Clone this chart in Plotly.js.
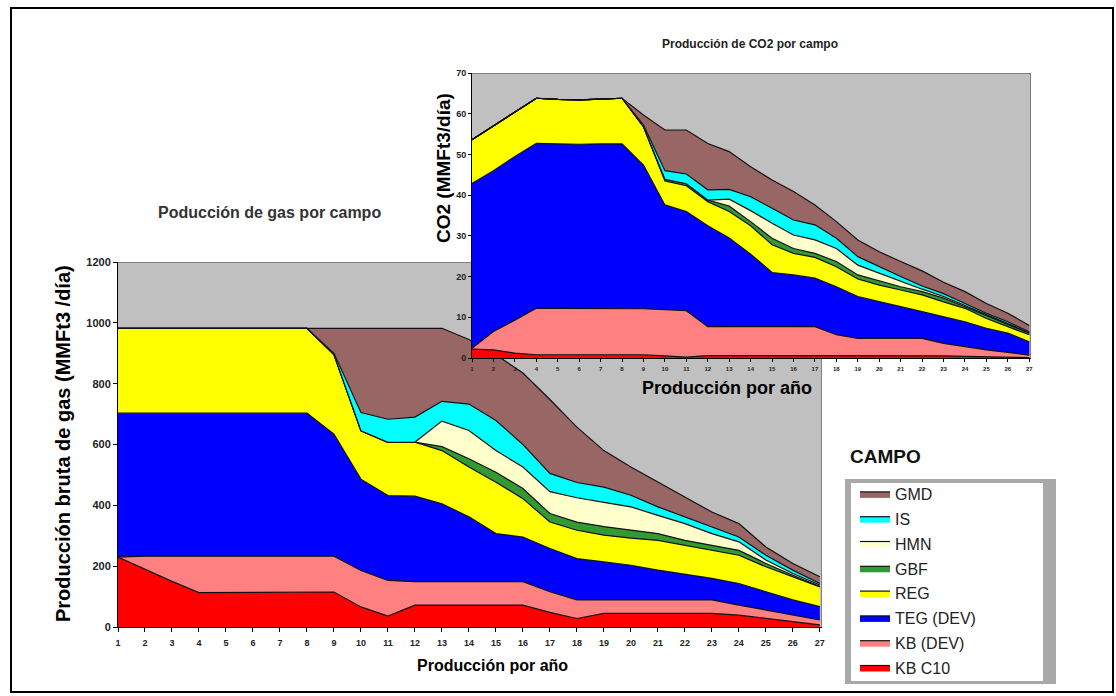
<!DOCTYPE html>
<html>
<head>
<meta charset="utf-8">
<script src="https://cdn.plot.ly/plotly-3.0.1.min.js"></script>
<style>
html,body{margin:0;padding:0;background:#fff;}
#chart{width:1116px;height:696px;}
</style>
</head>
<body>
<div id="chart"></div>
<script>
// ---- categories ----
const years = [1,2,3,4,5,6,7,8,9,10,11,12,13,14,15,16,17,18,19,20,21,22,23,24,25,26,27];
const yearLabels = years.map(String);

// ---- series (stack order bottom -> top) ----
const seriesNames = ['KB C10','KB (DEV)','TEG (DEV)','REG','GBF','HMN','IS','GMD'];
const seriesColors = ['#ff0000','#ff8080','#0000ff','#ffff00','#339933','#ffffcc','#00ffff','#996666'];

// ---- gas production (MMFt3/día) ----
const gasKBC10 = [230,190,150,113,113,113,113,113,115,66,36,72,72,72,72,72,48,28,45,45,45,45,45,39,28,17,7];
const gasKBDEV = [0,43,83,120,120,120,120,120,118,120,117,77,77,77,77,77,68,61,44,44,44,44,44,33,28,22,16];
const gasTEG   = [473,470,470,470,470,470,470,470,401,300,279,281,256,213,158,147,142,136,125,114,98,85,71,71,60,50,44];
const gasREG   = [279,279,279,279,279,279,279,279,262,159,175,178,175,164,169,126,87,93,88,89,98,95,92,93,82,76,65];
const gasGBF   = [0,0,0,0,0,0,0,0,0,0,0,0,13,27,33,33,28,27,28,26,22,16,17,16,11,5,2];
const gasHMN   = [0,0,0,0,0,0,0,0,0,0,0,0,84,93,71,71,72,80,80,77,60,55,38,28,11,6,4];
const gasIS    = [0,0,0,0,0,0,0,0,4,60,76,82,65,87,99,74,60,50,50,38,28,22,22,16,16,11,5];
const gasGMD   = [0,0,0,0,0,0,0,0,82,277,299,292,240,212,216,235,243,182,120,93,81,65,49,44,27,22,22];

// ---- CO2 production (MMFt3/día) ----
const co2KBC10 = [2.2,2.0,1.2,0.8,0.8,0.8,0.8,0.8,0.8,0.5,0.2,0.6,0.6,0.6,0.6,0.6,0.6,0.5,0.5,0.5,0.5,0.5,0.5,0.4,0.3,0.2,0.1];
const co2KBDEV = [0.2,4.5,8.1,11.4,11.4,11.4,11.4,11.4,11.3,11.4,11.4,7.1,7.1,7.1,7.1,7.1,7.1,5.2,4.3,4.3,4.3,4.3,3.1,2.4,1.7,1.2,0.6];
const co2TEG   = [40.5,39.5,40.2,40.5,40.4,40.3,40.4,40.4,35.3,25.7,24.4,24.8,21.8,17.8,13.3,12.7,11.9,11.8,10.3,9.0,7.8,6.6,6.6,6.1,5.3,4.7,3.3];
const co2REG   = [10.7,11.0,11.0,11.1,10.9,10.9,11.0,11.2,9.4,5.9,6.3,5.9,6.5,7.0,6.8,5.3,5.1,4.9,4.3,4.1,4.1,4.1,3.6,3.3,2.4,1.6,1.7];
const co2GBF   = [0,0,0,0,0,0,0,0,0,0.4,0.5,0.4,1.3,1.0,1.6,1.2,1.0,1.3,1.0,1.0,0.8,0.8,0.9,0.4,0.7,0.6,0.4];
const co2HMN   = [0,0,0,0,0,0,0,0,0,0,0,0,1.7,2.7,3.7,3.3,3.3,3.2,2.4,1.9,1.3,0.6,0.4,0.3,0.2,0.2,0.1];
const co2IS    = [0,0,0,0,0,0,0,0,0.4,2.1,2.4,2.5,2.4,3.4,3.7,3.7,3.7,2.5,2.1,1.6,1.2,0.8,0.7,0.5,0.4,0.4,0.2];
const co2GMD   = [0,0,0,0,0,0,0,0,2.5,10.0,10.8,11.4,9.3,7.4,6.9,7.0,4.9,4.1,4.1,3.7,3.7,3.7,2.8,2.9,2.4,2.1,1.6];

const gasSeries = [gasKBC10,gasKBDEV,gasTEG,gasREG,gasGBF,gasHMN,gasIS,gasGMD];
const co2Series = [co2KBC10,co2KBDEV,co2TEG,co2REG,co2GBF,co2HMN,co2IS,co2GMD];

// ---- texts ----
const mainTitle = 'Poducción de gas por campo';
const insetTitle = 'Producción de CO2 por campo';
const mainYTitle = 'Producción bruta de gas (MMFt3 /día)';
const insetYTitle = 'CO2 (MMFt3/día)';
const xTitle = 'Producción por año';
const legendTitle = 'CAMPO';

// ---- layout helpers (pixel -> paper) ----
const W = 1116, H = 696;
const px = v => v / W;
const py = v => 1 - v / H;
const FONT = 'Liberation Sans, Arial, sans-serif';

const traces = [];
seriesNames.forEach((name, i) => {
  traces.push({
    type: 'scatter', mode: 'lines', name: name,
    x: years, y: gasSeries[i],
    stackgroup: 'gas', xaxis: 'x', yaxis: 'y',
    fillcolor: seriesColors[i],
    line: {color: '#111111', width: 1.2},
    legendgroup: name, legendrank: 100 - i, showlegend: true,
    hoverinfo: 'x+y+name'
  });
});
seriesNames.forEach((name, i) => {
  traces.push({
    type: 'scatter', mode: 'lines', name: name,
    x: years, y: co2Series[i],
    stackgroup: 'co2', xaxis: 'x2', yaxis: 'y2',
    fillcolor: seriesColors[i],
    line: {color: '#111111', width: 1.2},
    legendgroup: name, legendrank: 100 - i, showlegend: false,
    hoverinfo: 'x+y+name'
  });
});

const layout = {
  width: W, height: H,
  margin: {l: 0, r: 0, t: 0, b: 0, pad: 0},
  paper_bgcolor: '#ffffff',
  plot_bgcolor: '#c0c0c0',
  font: {family: FONT, color: '#000'},
  xaxis: {
    domain: [px(118), px(822)], range: [1, 27.08], anchor: 'y',
    tickmode: 'array', tickvals: years, ticktext: yearLabels,
    ticks: 'outside', ticklen: 4, tickcolor: '#000', tickwidth: 1,
    ticklabelstandoff: 3,
    showline: true, linecolor: '#000', linewidth: 1,
    showgrid: false, zeroline: false, fixedrange: true,
    tickfont: {family: FONT, size: 9, color: '#222', weight: 'bold'}
  },
  yaxis: {
    domain: [py(627), py(262)], range: [0, 1200], anchor: 'x',
    tickmode: 'linear', tick0: 0, dtick: 200,
    ticks: 'outside', ticklen: 4, tickcolor: '#000',
    showline: true, linecolor: '#000', linewidth: 1,
    showgrid: false, zeroline: false, fixedrange: true,
    tickfont: {family: FONT, size: 11, color: '#222', weight: 'bold'}
  },
  xaxis2: {
    domain: [px(472), px(1031)], range: [1, 27.08], anchor: 'y2',
    tickmode: 'array', tickvals: years, ticktext: yearLabels,
    ticks: 'outside', ticklen: 3, tickcolor: '#000',
    ticklabelstandoff: 2,
    showline: true, linecolor: '#000', linewidth: 1,
    showgrid: false, zeroline: false, fixedrange: true,
    tickfont: {family: FONT, size: 6, color: '#222', weight: 'bold'}
  },
  yaxis2: {
    domain: [py(358), py(73)], range: [0, 70], anchor: 'x2',
    tickmode: 'linear', tick0: 0, dtick: 10,
    ticks: 'outside', ticklen: 3, tickcolor: '#000',
    showline: true, linecolor: '#000', linewidth: 1,
    showgrid: false, zeroline: false, fixedrange: true,
    tickfont: {family: FONT, size: 9, color: '#222', weight: 'bold'}
  },
  showlegend: true,
  legend: {
    x: px(855), y: py(477), xanchor: 'left', yanchor: 'top',
    bgcolor: 'rgba(0,0,0,0)', borderwidth: 0,
    traceorder: 'grouped', tracegroupgap: 1,
    font: {family: FONT, size: 16, color: '#222'},
    itemclick: false, itemdoubleclick: false
  },
  shapes: [
    // plot frames (top/right grey edges)
    {type: 'line', xref: 'x', yref: 'y', x0: 1, x1: 27.08, y0: 1200, y1: 1200, layer: 'below', line: {color: '#808080', width: 2}},
    {type: 'line', xref: 'x', yref: 'y', x0: 27.08, x1: 27.08, y0: 0, y1: 1200, layer: 'below', line: {color: '#808080', width: 2}},
    {type: 'line', xref: 'x2', yref: 'y2', x0: 1, x1: 27.08, y0: 70, y1: 70, layer: 'below', line: {color: '#808080', width: 2}},
    {type: 'line', xref: 'x2', yref: 'y2', x0: 27.08, x1: 27.08, y0: 0, y1: 70, layer: 'below', line: {color: '#808080', width: 2}},
    // legend box
    {type: 'rect', xref: 'paper', yref: 'paper', x0: px(845), x1: px(1056), y0: py(684), y1: py(479), layer: 'below', fillcolor: '#a8a8a8', line: {width: 0}},
    {type: 'rect', xref: 'paper', yref: 'paper', x0: px(851), x1: px(1043), y0: py(681), y1: py(483), layer: 'below', fillcolor: '#ffffff', line: {width: 0}},
    // outer frame
    {type: 'rect', xref: 'paper', yref: 'paper', x0: px(11), x1: px(1113), y0: py(692), y1: py(8), layer: 'above', fillcolor: 'rgba(0,0,0,0)', line: {color: '#000', width: 2}}
  ],
  annotations: [
    {xref: 'paper', yref: 'paper', x: px(269), y: py(213), text: mainTitle, showarrow: false, xanchor: 'center', yanchor: 'middle', font: {family: FONT, size: 16, color: '#333', weight: 'bold'}},
    {xref: 'paper', yref: 'paper', x: px(750), y: py(44), text: insetTitle, showarrow: false, xanchor: 'center', yanchor: 'middle', font: {family: FONT, size: 12, color: '#222', weight: 'bold'}},
    {xref: 'paper', yref: 'paper', x: px(63), y: py(444), text: mainYTitle, textangle: -90, showarrow: false, xanchor: 'center', yanchor: 'middle', font: {family: FONT, size: 20, color: '#000', weight: 'bold'}},
    {xref: 'paper', yref: 'paper', x: px(492), y: py(665), text: xTitle, showarrow: false, xanchor: 'center', yanchor: 'middle', font: {family: FONT, size: 16, color: '#000', weight: 'bold'}},
    {xref: 'paper', yref: 'paper', x: px(443), y: py(168), text: insetYTitle, textangle: -90, showarrow: false, xanchor: 'center', yanchor: 'middle', font: {family: FONT, size: 19, color: '#000', weight: 'bold'}},
    {xref: 'paper', yref: 'paper', x: px(727), y: py(388), text: xTitle, showarrow: false, xanchor: 'center', yanchor: 'middle', font: {family: FONT, size: 18, color: '#000', weight: 'bold'}},
    {xref: 'paper', yref: 'paper', x: px(885), y: py(456), text: legendTitle, showarrow: false, xanchor: 'center', yanchor: 'middle', font: {family: FONT, size: 19, color: '#111', weight: 'bold'}}
  ]
};

Plotly.newPlot('chart', traces, layout, {displayModeBar: false, responsive: false});
</script>
</body>
</html>
